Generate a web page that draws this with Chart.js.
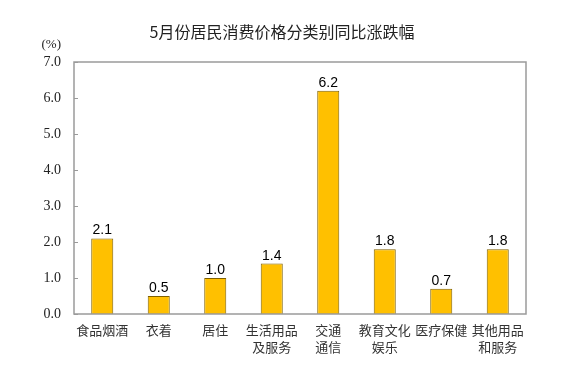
<!DOCTYPE html>
<html><head><meta charset="utf-8">
<script src="https://cdn.jsdelivr.net/npm/chart.js@4"></script>
<style>html,body{margin:0;padding:0;background:#fff}#wrap{width:582px;height:375px}</style>
</head><body><div id="wrap"><canvas id="c" width="582" height="375"></canvas></div>
<script>
const categories = [["食品烟酒"], ["衣着"], ["居住"], ["生活用品","及服务"], ["交通","通信"], ["教育文化","娱乐"], ["医疗保健"], ["其他用品","和服务"]];
const values = [2.1, 0.5, 1.0, 1.4, 6.2, 1.8, 0.7, 1.8];
const yTicks = [0, 1, 2, 3, 4, 5, 6, 7];
const titleText = "5月份居民消费价格分类别同比涨跌幅";
const unitText = "(%)";

const cjk = '"Noto Sans CJK SC", "Noto Sans", sans-serif';

const decor = {
  id: 'decor',
  afterDraw(chart) {
    const ctx = chart.ctx, a = chart.chartArea, y = chart.scales.y;
    ctx.save();
    ctx.strokeStyle = '#9a9a9a'; ctx.lineWidth = 1.5;
    ctx.strokeRect(a.left, a.top, a.right - a.left, a.bottom - a.top);
    ctx.lineWidth = 1;
    yTicks.forEach(v => {
      const py = Math.round(y.getPixelForValue(v)) + 0.5;
      ctx.beginPath(); ctx.moveTo(a.left, py); ctx.lineTo(a.left + 4, py); ctx.stroke();
    });
    ctx.fillStyle = '#222'; ctx.font = '16px ' + cjk; ctx.textAlign = 'center'; ctx.textBaseline = 'middle';
    ctx.fillText(titleText, 282, 32);
    ctx.font = '13px "Liberation Serif", serif'; ctx.textAlign = 'right';
    ctx.fillText(unitText, 61, 45);
    ctx.fillStyle = '#000'; ctx.font = '14px "Liberation Sans", Arial, sans-serif';
    ctx.textAlign = 'center'; ctx.textBaseline = 'alphabetic';
    const meta = chart.getDatasetMeta(0);
    meta.data.forEach((bar, i) => {
      ctx.fillText(values[i].toFixed(1), bar.x, bar.y - 4);
    });
    ctx.restore();
  }
};

new Chart(document.getElementById('c'), {
  type: 'bar',
  data: {
    labels: categories,
    datasets: [{
      data: values,
      backgroundColor: '#FFC000',
      borderColor: '#7F6000',
      borderWidth: 1,
      categoryPercentage: 1,
      barPercentage: 0.39
    }]
  },
  options: {
    responsive: false,
    animation: false,
    layout: { padding: { left: 0, right: 56, top: 62, bottom: 0 } },
    plugins: { legend: { display: false }, tooltip: { enabled: false }, title: { display: false } },
    scales: {
      x: {
        grid: { display: false, drawTicks: false },
        border: { display: false },
        ticks: { color: '#333', font: { family: cjk, size: 13, lineHeight: 1.3 }, padding: 8, maxRotation: 0, autoSkip: false },
        afterFit(s) { s.height = 61; }
      },
      y: {
        min: 0, max: 7,
        grid: { display: false, drawTicks: false },
        border: { display: false },
        ticks: { stepSize: 1, color: '#222', padding: 13, font: { family: '"Liberation Serif", serif', size: 14 }, callback: v => v.toFixed(1) },
        afterFit(s) { s.width = 74; }
      }
    }
  },
  plugins: [decor]
});
</script></body></html>
